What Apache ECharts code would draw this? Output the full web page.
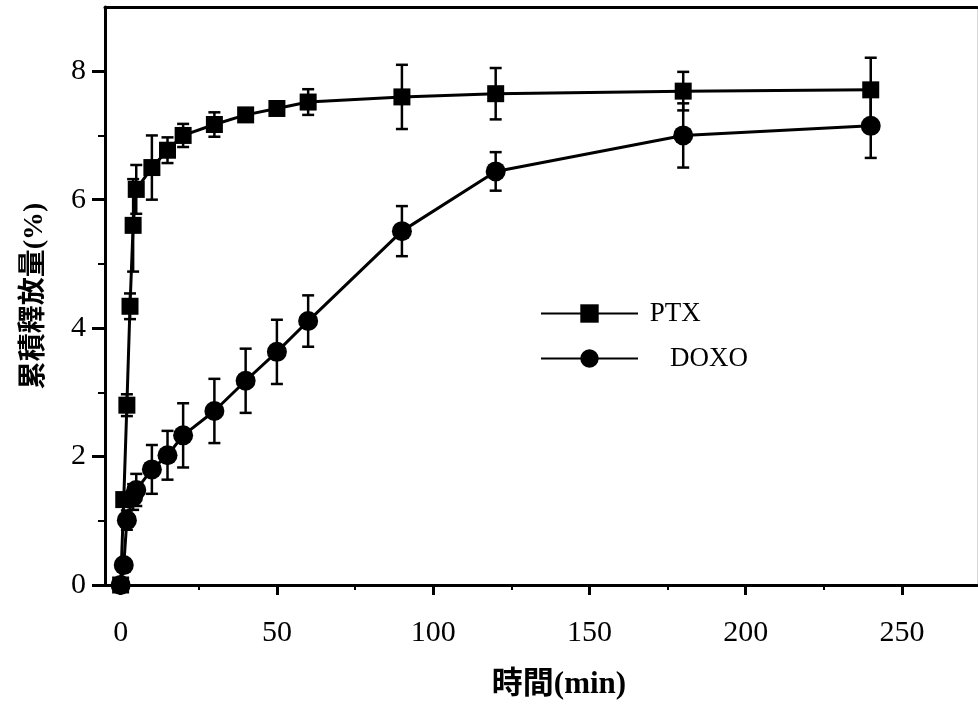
<!DOCTYPE html>
<html><head><meta charset="utf-8">
<script src="https://cdn.jsdelivr.net/npm/echarts@6/dist/echarts.min.js"></script>
<style>html,body{margin:0;padding:0;background:#fff}#c{width:978px;height:706px}</style>
</head><body><div id="c"></div>
<script>
const xMajorTicks = [0, 50, 100, 150, 200, 250];
const xMinorTicks = [25, 75, 125, 175, 225];
const yMajorTicks = [0, 2, 4, 6, 8];
const yMinorTicks = [1, 3, 5, 7];

const ptxTime = [0, 1, 2, 3, 4, 5, 10, 15, 20, 30, 40, 50, 60, 90, 120, 180, 240];
const ptxMean = [0, 1.33, 2.8, 4.34, 5.6, 6.16, 6.5, 6.77, 7.0, 7.17, 7.32, 7.42, 7.52, 7.6, 7.65, 7.69, 7.71];
const ptxSD   = [0, 0, 0.17, 0.2, 0.72, 0.38, 0.5, 0.2, 0.18, 0.19, 0.04, 0.04, 0.2, 0.5, 0.4, 0.3, 0.5];

const doxoTime = [0, 1, 2, 4, 5, 10, 15, 20, 30, 40, 50, 60, 90, 120, 180, 240];
const doxoMean = [0, 0.31, 1.01, 1.37, 1.48, 1.8, 2.02, 2.33, 2.71, 3.18, 3.63, 4.11, 5.51, 6.44, 7.0, 7.15];
const doxoSD   = [0, 0, 0.15, 0.2, 0.25, 0.38, 0.38, 0.5, 0.5, 0.5, 0.5, 0.4, 0.39, 0.3, 0.5, 0.5];

const FONT = "'Liberation Serif', 'Noto Sans CJK TC', serif";
const XMIN = -5, XMAX = 274, YMIN = 0, YMAX = 9;

function errSeries(name, xs, ys, es) {
  return {
    type: 'custom', name: name + ' err', z: 1, silent: true,
    xAxisIndex: 0, yAxisIndex: 0,
    data: xs.map((x, i) => [x, ys[i] - es[i], ys[i] + es[i]]),
    encode: { x: 0, y: [1, 2] },
    renderItem: function (params, api) {
      if (api.value(2) - api.value(1) <= 0) return null;
      const lo = api.coord([api.value(0), api.value(1)]);
      const hi = api.coord([api.value(0), api.value(2)]);
      const w = 6;
      const st = { stroke: '#000', lineWidth: 2.5 };
      return { type: 'group', children: [
        { type: 'line', shape: { x1: lo[0], y1: lo[1], x2: hi[0], y2: hi[1] }, style: st },
        { type: 'line', shape: { x1: lo[0] - w, y1: lo[1], x2: lo[0] + w, y2: lo[1] }, style: st },
        { type: 'line', shape: { x1: hi[0] - w, y1: hi[1], x2: hi[0] + w, y2: hi[1] }, style: st }
      ]};
    }
  };
}

const chart = echarts.init(document.getElementById('c'), null, { renderer: 'canvas' });
chart.setOption({
  animation: false,
  backgroundColor: '#fff',
  grid: { left: 105, right: 1, top: 7, bottom: 121, containLabel: false },
  legend: {
    data: ['PTX', 'DOXO'], orient: 'vertical', left: 540, top: 300, padding: 0,
    itemWidth: 97, itemHeight: 23, itemGap: 18,
    formatter: n => n === 'DOXO' ? '    DOXO' : ' PTX',
    textStyle: { fontFamily: FONT, fontSize: 27, color: '#000' }
  },
  xAxis: [
    {
      type: 'value', min: XMIN, max: XMAX, position: 'bottom',
      name: '時間(min)', nameLocation: 'middle', nameGap: 84,
      nameTextStyle: { fontFamily: FONT, fontSize: 31, fontWeight: 'bold', color: '#000', padding: [0, 0, 0, 36] },
      axisLine: { show: true, onZero: false, lineStyle: { color: '#000', width: 3 } },
      axisTick: { show: true, inside: false, length: 10, customValues: xMajorTicks, lineStyle: { color: '#000', width: 3 } },
      axisLabel: { show: true, customValues: xMajorTicks, margin: 33, fontFamily: FONT, fontSize: 30, color: '#000' },
      splitLine: { show: false }
    },
    {
      type: 'value', min: XMIN, max: XMAX, position: 'bottom',
      axisLine: { show: false, onZero: false },
      axisTick: { show: true, inside: false, length: 5, customValues: xMinorTicks, lineStyle: { color: '#000', width: 2 } },
      axisLabel: { show: false }, splitLine: { show: false }
    },
    {
      type: 'value', min: XMIN, max: XMAX, position: 'top',
      axisLine: { show: true, onZero: false, lineStyle: { color: '#000', width: 3 } },
      axisTick: { show: false }, axisLabel: { show: false }, splitLine: { show: false }
    }
  ],
  yAxis: [
    {
      type: 'value', min: YMIN, max: YMAX, position: 'left',
      name: '累積釋放量(%)', nameLocation: 'middle', nameGap: 56,
      nameTextStyle: { fontFamily: FONT, fontSize: 28, fontWeight: 'bold', color: '#000' },
      axisLine: { show: true, onZero: false, lineStyle: { color: '#000', width: 3 } },
      axisTick: { show: true, inside: false, length: 13, customValues: yMajorTicks, lineStyle: { color: '#000', width: 3 } },
      axisLabel: { show: true, customValues: yMajorTicks, margin: 19, fontFamily: FONT, fontSize: 30, color: '#000' },
      splitLine: { show: false }
    },
    {
      type: 'value', min: YMIN, max: YMAX, position: 'left',
      axisLine: { show: false, onZero: false },
      axisTick: { show: true, inside: false, length: 7, customValues: yMinorTicks, lineStyle: { color: '#000', width: 2 } },
      axisLabel: { show: false }, splitLine: { show: false }
    },
    {
      type: 'value', min: YMIN, max: YMAX, position: 'right',
      axisLine: { show: true, onZero: false, lineStyle: { color: '#d8d8d8', width: 1 } },
      axisTick: { show: false }, axisLabel: { show: false }, splitLine: { show: false }
    }
  ],
  series: [
    errSeries('PTX', ptxTime, ptxMean, ptxSD),
    errSeries('DOXO', doxoTime, doxoMean, doxoSD),
    {
      name: 'DOXO', type: 'line', xAxisIndex: 0, yAxisIndex: 0, z: 3,
      data: doxoTime.map((t, i) => [t, doxoMean[i]]),
      symbol: 'circle', symbolSize: 20,
      lineStyle: { color: '#000', width: 3 }, itemStyle: { color: '#000' }
    },
    {
      name: 'PTX', type: 'line', xAxisIndex: 0, yAxisIndex: 0, z: 4,
      data: ptxTime.map((t, i) => [t, ptxMean[i]]),
      symbol: 'rect', symbolSize: 17,
      lineStyle: { color: '#000', width: 3 }, itemStyle: { color: '#000' }
    }
  ]
});
</script>
</body></html>
